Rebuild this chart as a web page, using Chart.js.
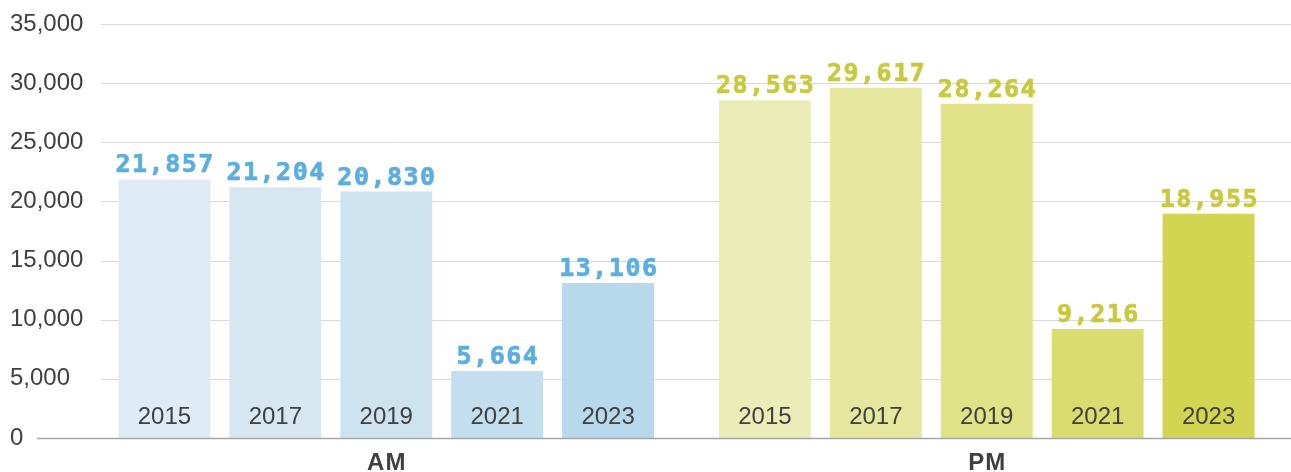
<!DOCTYPE html>
<html>
<head>
<meta charset="utf-8">
<script src="https://cdn.jsdelivr.net/npm/chart.js@4"></script>
<style>
  html, body { margin: 0; padding: 0; background: #fff; }
  #wrap { width: 1291px; height: 472px; position: relative; }
</style>
</head>
<body>
<div id="wrap"><canvas id="chart"></canvas></div>
<script>
// data
const groups = ["AM", "PM"];
const years = ["2015", "2017", "2019", "2021", "2023"];
const amValues = [21857, 21204, 20830, 5664, 13106];
const pmValues = [28563, 29617, 28264, 9216, 18955];

// colours
const amColors = ["#DFECF5", "#D6E7F2", "#CDE3F0", "#C3DEEE", "#B8D8EB"];
const pmColors = ["#EBEDB9", "#E5E79F", "#DFE286", "#D9DC6F", "#D3D452"];
const amLabelColor = "#5BAEE0";
const pmLabelColor = "#C8C93D";
const textColor = "#404040";

const fmt = v => v.toLocaleString("en-US");

// grid lines under the bars, base line over them
const gridPlugin = {
  id: "grid",
  beforeDatasetsDraw(chart) {
    const { ctx, scales: { y } } = chart;
    ctx.save();
    ctx.lineWidth = 1;
    ctx.strokeStyle = "#D9D9D9";
    y.ticks.forEach(t => {
      if (t.value === 0) return;
      const py = Math.round(y.getPixelForValue(t.value)) + 0.5;
      ctx.beginPath();
      ctx.moveTo(101, py);
      ctx.lineTo(chart.width, py);
      ctx.stroke();
    });
    ctx.restore();
  },
  afterDatasetsDraw(chart) {
    const { ctx, scales: { y } } = chart;
    const py = Math.round(y.getPixelForValue(0)) + 0.5;
    ctx.save();
    ctx.strokeStyle = "#A6A6A6";
    ctx.lineWidth = 1.5;
    ctx.beginPath();
    ctx.moveTo(37, py);
    ctx.lineTo(chart.width, py);
    ctx.stroke();
    ctx.restore();
  }
};

// value labels above bars, year labels inside bars, group labels under axis
const labelPlugin = {
  id: "labels",
  afterDatasetsDraw(chart) {
    const { ctx, scales: { x } } = chart;
    ctx.save();
    chart.data.datasets.forEach((ds, i) => {
      chart.getDatasetMeta(i).data.forEach((bar, j) => {
        const txt = fmt(ds.data[j]);
        ctx.textAlign = "center";
        ctx.textBaseline = "alphabetic";
        ctx.font = "bold 25px 'DejaVu Sans Mono'";
        ctx.letterSpacing = "1.5px";
        ctx.fillStyle = ctx.strokeStyle = j === 0 ? amLabelColor : pmLabelColor;
        ctx.lineWidth = 0.7;
        ctx.fillText(txt, bar.x + 0.75, bar.y - 7);
        ctx.strokeText(txt, bar.x + 0.75, bar.y - 7);

        ctx.letterSpacing = "0px";
        ctx.font = "24px 'Liberation Sans'";
        ctx.textBaseline = "middle";
        ctx.fillStyle = textColor;
        ctx.fillText(ds.label, bar.x, bar.base - 21);
      });
    });

    ctx.font = "bold 24px 'Liberation Sans'";
    ctx.letterSpacing = "1px";
    ctx.textAlign = "center";
    ctx.textBaseline = "alphabetic";
    ctx.fillStyle = textColor;
    groups.forEach((g, i) => {
      ctx.fillText(g, x.getPixelForValue(i) + 0.5, 470);
    });
    ctx.restore();
  }
};

new Chart(document.getElementById("chart"), {
  type: "bar",
  data: {
    labels: groups,
    datasets: years.map((yr, i) => ({
      label: yr,
      data: [amValues[i], pmValues[i]],
      backgroundColor: [amColors[i], pmColors[i]],
      categoryPercentage: 0.9235,
      barPercentage: 0.829
    }))
  },
  options: {
    responsive: true,
    maintainAspectRatio: false,
    animation: false,
    layout: { padding: { left: 10, right: 4, top: 24, bottom: 0 } },
    plugins: {
      legend: { display: false },
      tooltip: { enabled: false }
    },
    scales: {
      x: {
        grid: { display: false, drawTicks: false },
        border: { display: false },
        afterFit: s => { s.height = 34; },
        ticks: { display: false }
      },
      y: {
        min: 0,
        max: 35000,
        grid: { display: false, drawTicks: false },
        border: { display: false },
        afterFit: s => { s.width = 76; },
        ticks: {
          stepSize: 5000,
          padding: 2,
          crossAlign: "far",
          color: textColor,
          font: { family: "'Liberation Sans'", size: 24 },
          callback: v => fmt(v)
        }
      }
    }
  },
  plugins: [gridPlugin, labelPlugin]
});
</script>
</body>
</html>
